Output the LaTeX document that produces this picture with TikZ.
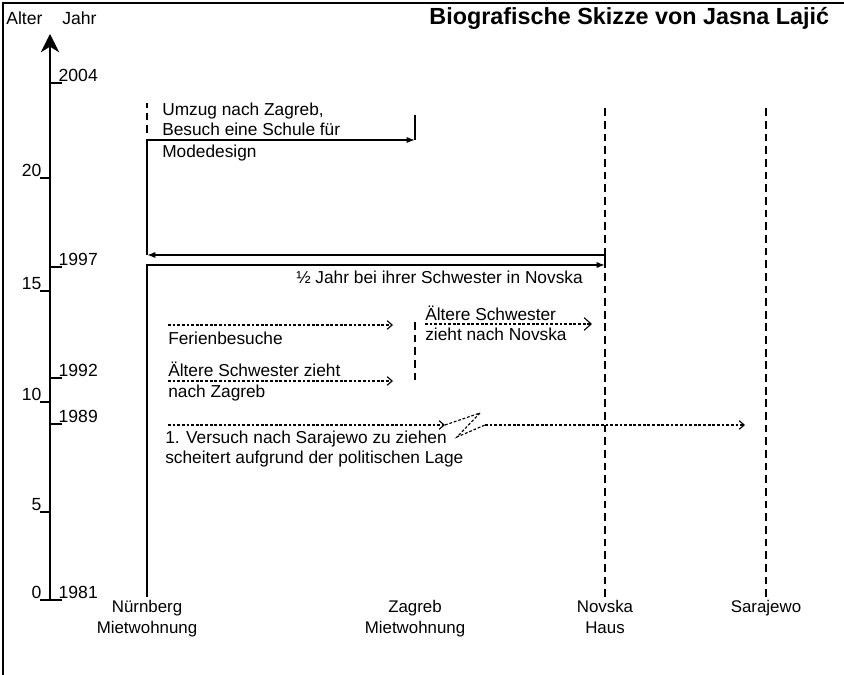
\documentclass[tikz,border=0pt]{standalone}
\usepackage{fontspec}
\setmainfont{Liberation Sans}
\usepackage{tikz}
\usetikzlibrary{arrows.meta,positioning,calc}

\begin{document}
\begin{tikzpicture}[
    x=0.025cm, y=-0.025cm,
    font=\fontsize{12.3}{14}\selectfont,
    lifeline/.style={line width=1.1pt},
    move/.style={lifeline, -{Latex[length=6pt,width=4.5pt]}},
    placeline/.style={line width=0.9pt, dash pattern=on 5.5pt off 3.5pt},
    visit/.style={line width=0.8pt, dash pattern=on 2pt off 1.3pt},
    visitarrow/.style={visit, -{Straight Barb[length=3.5pt,width=6pt]}},
    axistick/.style={line width=0.9pt},
    axislabel/.style={inner sep=1pt, font=\fontsize{12.5}{14}\selectfont},
    note/.style={inner sep=0pt, align=left},
    place/.style={align=center, inner sep=2pt, anchor=north, font=\fontsize{12}{15}\selectfont}
]
\useasboundingbox (0,0) rectangle (844,675);
\draw[line width=1.5pt] (3,675) -- (3,3) -- (844,3);

% title and axis captions
\node[anchor=east, font=\bfseries\fontsize{16.6}{18}\selectfont] (title) at (834,18) {Biografische Skizze von Jasna Lajić};
\node[anchor=west, axislabel, inner sep=0pt] (alter) at (6,18) {Alter};
\node[anchor=west, axislabel, inner sep=0pt] (jahr) at (62,18) {Jahr};

% time axis
\coordinate (axisBot) at (50,600);
\coordinate (axisTop) at (50,34);
\draw[line width=1.3pt, -{Stealth[length=13pt,width=13pt,inset=4pt]}] (axisBot) -- (axisTop);
\foreach \ypos/\yr in {83/2004, 267/1997, 378/1992, 424/1989, 600/1981} {
    \draw[axistick] (50,\ypos) -- (62,\ypos);
    \node[axislabel, anchor=south west] (yr\yr) at (57,\ypos) {\yr};
}
\foreach \ypos/\age in {178/20, 291/15, 402/10, 512/5, 600/0} {
    \draw[axistick] (40,\ypos) -- (50,\ypos);
    \node[axislabel, anchor=south east] (age\age) at (43,\ypos) {\age};
}

% places
\node[place] (nuernberg) at (147,597) {Nürnberg\\Mietwohnung};
\node[place] (zagreb) at (415,597) {Zagreb\\Mietwohnung};
\node[place] (novska) at (605,597) {Novska\\Haus};
\node[place] (sarajewo) at (766,597) {Sarajewo};

\coordinate (novTop) at (605,105);
\coordinate (sarTop) at (766,105);
\draw[placeline] (novska.north) -- (novTop);
\draw[placeline] (sarajewo.north) -- (sarTop);

% life path
\coordinate (nbg97) at (147,265);
\coordinate (nov97) at (605,265);
\coordinate (nov97b) at (605,255);
\coordinate (nbg97b) at (147,255);
\coordinate (nbg03) at (147,140);
\coordinate (zag03) at (415,140);
\coordinate (zag04) at (415,115);
\coordinate (nbgA) at (147,133);
\coordinate (nbgB) at (147,103);
\draw[move] (nuernberg.north) -- (nbg97) -- (nov97);
\draw[move] (nov97) -- (nov97b) -- (nbg97b);
\draw[move] (nbg97b) -- (nbg03) -- (zag03);
\draw[lifeline] (zag03) -- (zag04);
\draw[placeline] (nbgA) -- (nbgB);

\node[note, anchor=south west] (umzug) at (162,136) {Umzug nach Zagreb,\\Besuch eine Schule für};
\node[note, anchor=north west] (mode) at (162,145) {Modedesign};
\node[note, anchor=north east] (halbjahr) at (583,271) {½ Jahr bei ihrer Schwester in Novska};

% visits and moves of the sister
\coordinate (ferA) at (168,325);
\coordinate (ferB) at (393,325);
\draw[visitarrow] (ferA) -- (ferB);
\node[note, anchor=north west] (ferien) at (168,332) {Ferienbesuche};

\coordinate (schA) at (168,381);
\coordinate (schB) at (393,381);
\draw[visitarrow] (schA) -- (schB);
\node[note, anchor=south west] (schw1) at (168,377) {Ältere Schwester zieht};
\node[note, anchor=north west] (schw2) at (168,385) {nach Zagreb};

\coordinate (zagA) at (415,322);
\coordinate (zagB) at (415,382);
\draw[placeline] (zagA) -- (zagB);
\coordinate (novA) at (425,324);
\coordinate (novB) at (592,324);
\draw[visit, -{Straight Barb[length=5pt,width=9pt]}] (novA) -- (novB);
\node[note, anchor=south west] (schw3) at (425,321) {Ältere Schwester};
\node[note, anchor=north west] (schw4) at (425,328) {zieht nach Novska};

% failed move to Sarajewo
\coordinate (sarA) at (168,425);
\coordinate (brkA) at (445,425);
\coordinate (brkB) at (480,413);
\coordinate (brkC) at (457,437);
\coordinate (brkD) at (485,425);
\coordinate (sarB) at (745,425);
\draw[visitarrow] (sarA) -- (brkA);
\draw[visit] (brkA) -- (brkB) -- (brkC) -- (brkD);
\draw[visitarrow] (brkD) -- (sarB);
\node[note, anchor=north west] (versuch) at (165,431) {1. Versuch nach Sarajewo zu ziehen\\scheitert aufgrund der politischen Lage};
\end{tikzpicture}
\end{document}
